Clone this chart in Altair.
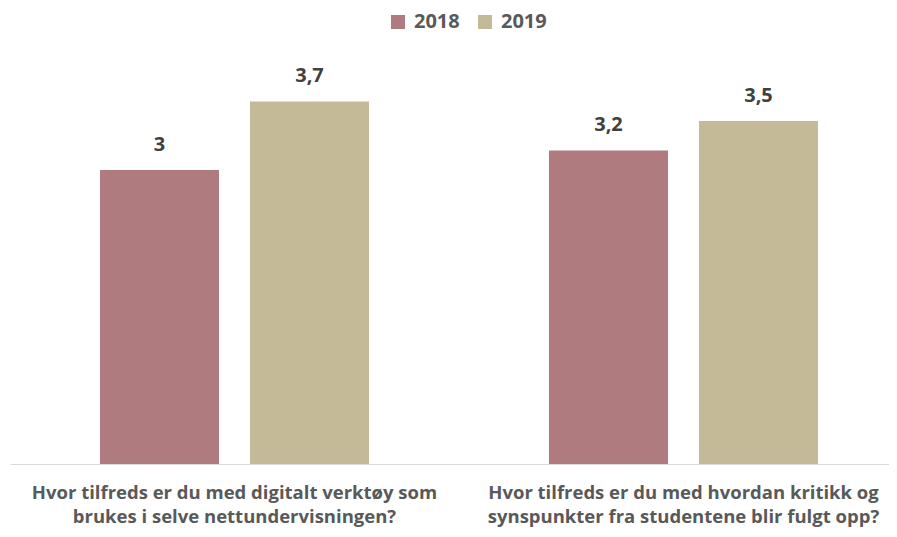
import altair as alt
import pandas as pd

categories = [
    "Hvor tilfreds er du med digitalt verktøy som\nbrukes i selve nettundervisningen?",
    "Hvor tilfreds er du med hvordan kritikk og\nsynspunkter fra studentene blir fulgt opp?",
]
years = ["2018", "2019"]
values_2018 = [3.0, 3.2]
values_2019 = [3.7, 3.5]
labels_2018 = ["3", "3,2"]
labels_2019 = ["3,7", "3,5"]
colors = ["#B07B7E", "#C4BA97"]

rows = []
for i, c in enumerate(categories):
    rows.append({"cat": c, "year": years[0], "value": values_2018[i], "lbl": labels_2018[i]})
    rows.append({"cat": c, "year": years[1], "value": values_2019[i], "lbl": labels_2019[i]})
df = pd.DataFrame(rows)

FONT = "Open Sans"

x = alt.X(
    "cat:N",
    sort=categories,
    scale=alt.Scale(paddingInner=0, paddingOuter=0),
    axis=alt.Axis(
        title=None,
        labelAngle=0,
        ticks=False,
        domainColor="#D9D9D9",
        domainWidth=1,
        labelExpr="split(datum.label, '\\n')",
        labelFont=FONT,
        labelFontSize=18.5,
        labelFontWeight="bold",
        labelColor="#595959",
        labelLineHeight=24,
        labelLimit=0,
        labelPadding=19,
        labelBaseline="top",
    ),
)
xo = alt.XOffset(
    "year:N",
    sort=years,
    scale=alt.Scale(paddingInner=0.2067, paddingOuter=0.6),
)
y = alt.Y("value:Q", scale=alt.Scale(domain=[0, 4.551], nice=False), axis=None)

base = alt.Chart(df)

bars = base.mark_bar().encode(
    x=x,
    xOffset=xo,
    y=y,
    color=alt.Color(
        "year:N",
        sort=years,
        scale=alt.Scale(domain=years, range=colors),
        legend=alt.Legend(
            title=None,
            orient="none",
            direction="horizontal",
            legendX=378,
            legendY=-6,
            symbolType="square",
            symbolSize=196,
            symbolStrokeWidth=0,
            labelFont=FONT,
            labelFontSize=20,
            labelFontWeight="bold",
            labelColor="#595959",
            labelOffset=6,
            columnPadding=15,
        ),
    ),
)

text = base.mark_text(
    baseline="alphabetic", dy=-19, font=FONT, fontSize=20, fontWeight="bold", color="#404040"
).encode(x=x, xOffset=xo, y=y, text="lbl:N")

chart = (
    alt.layer(bars, text)
    .properties(
        width=898,
        height=446,
        autosize=alt.AutoSizeParams(type="none"),
        padding={"left": 2, "top": 10, "right": -19, "bottom": 65},
    )
    .configure_view(stroke=None)
    .configure_axis(grid=False)
)

chart.save("out.html", embed_options={"renderer": "svg", "actions": False})
